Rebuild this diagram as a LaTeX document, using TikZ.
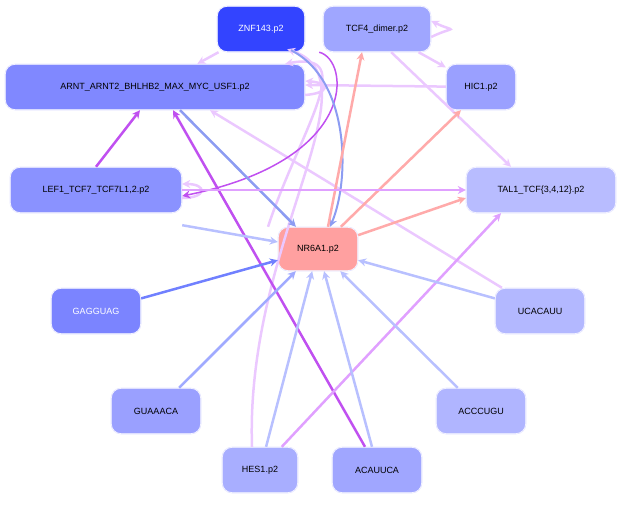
\documentclass[tikz,border=0pt]{standalone}
\usepackage{fontspec}
\setmainfont{Liberation Sans}
\usetikzlibrary{arrows.meta}

\definecolor{cLav}{HTML}{EBC8FF}
\definecolor{cPur}{HTML}{C050F0}
\definecolor{cVio}{HTML}{E0A0FF}
\definecolor{cLBlue}{HTML}{B8C0FF}
\definecolor{cBlue}{HTML}{8C9CF2}
\definecolor{cSal}{HTML}{FFAAAA}
\definecolor{cGag}{HTML}{7080FF}
\definecolor{cGua}{HTML}{A0AAFF}
\definecolor{fZnf}{HTML}{3344FF}
\definecolor{fTcf}{HTML}{9FA6FF}
\definecolor{fArnt}{HTML}{8088FF}
\definecolor{fHic}{HTML}{9AA0FF}
\definecolor{fLef}{HTML}{8A92FF}
\definecolor{fTal}{HTML}{B8BCFF}
\definecolor{fNr}{HTML}{FFA0A0}
\definecolor{fGag}{HTML}{7B84FF}
\definecolor{fUca}{HTML}{B3B8FF}
\definecolor{fAcc}{HTML}{B0B5FF}
\definecolor{fHes}{HTML}{A8AEFF}
\definecolor{fAca}{HTML}{A0A6FF}

\begin{document}
\begin{tikzpicture}[x=1pt, y=-1pt, font=\small]
	\tikzstyle{tf}=[rectangle, rounded corners=10pt, draw=white, double=blue!10, minimum height=46pt, inner sep=4pt]
	\tikzstyle{edge}=[line width=2.5pt, -{Stealth[length=8pt,width=8pt]}]
	\useasboundingbox (0,0) rectangle (621,504);
	\node[tf, fill=fZnf, text=white, minimum width=88pt] (znf) at (261,29) {ZNF143.p2};
	\node[tf, fill=fTcf, minimum width=108pt] (tcf) at (377,29) {TCF4\_dimer.p2};
	\node[tf, fill=fArnt, minimum width=300pt] (arnt) at (155,87) {ARNT\_ARNT2\_BHLHB2\_MAX\_MYC\_USF1.p2};
	\node[tf, fill=fHic, minimum width=70pt] (hic) at (481,87) {HIC1.p2};
	\node[tf, fill=fLef, minimum width=172pt] (lef) at (96,190) {LEF1\_TCF7\_TCF7L1,2.p2};
	\node[tf, fill=fTal, minimum width=150pt] (tal) at (541,190) {TAL1\_TCF\{3,4,12\}.p2};
	\node[tf, fill=fNr, minimum width=80pt, minimum height=44pt] (nr) at (318,249) {NR6A1.p2};
	\node[tf, fill=fGag, text=white, minimum width=90pt] (gag) at (96,311) {GAGGUAG};
	\node[tf, fill=fUca, minimum width=90pt] (uca) at (540,311) {UCACAUU};
	\node[tf, fill=fHic, minimum width=90pt] (gua) at (156,411) {GUAAACA};
	\node[tf, fill=fAcc, minimum width=90pt] (acc) at (481,411) {ACCCUGU};
	\node[tf, fill=fHes, minimum width=76pt] (hes) at (260,470) {HES1.p2};
	\node[tf, fill=fAca, minimum width=90pt] (aca) at (377,470) {ACAUUCA};
	% light edges
	\draw[edge, cLav] (znf) -- (arnt);
	\draw[edge, cLav] ([yshift=-8pt]tcf.east) .. controls +(25,-12) and +(25,12) .. ([yshift=8pt]tcf.east);
	\draw[edge, cLav] (tcf) -- (hic);
	\draw[edge, cLav] ([xshift=-40pt]tcf.south east) -- ([xshift=-30pt]tal.north);
	\draw[edge, cLav] (hic) -- ([yshift=2pt]arnt.east);
	\draw[edge, cLav] ([yshift=-8pt]arnt.east) .. controls +(25,-2) and +(25,2) .. ([yshift=6pt]arnt.east);
	\draw[edge, cLav] (uca) -- ([xshift=55pt]arnt.south);
	\draw[edge, cLav] ([xshift=-8pt]hes.north) .. controls (245,240) and (380,80) .. ([xshift=-18pt,yshift=3pt]znf.south east);
	\draw[edge, cLav] ([xshift=-50pt]nr.north) .. controls (300,130) and (360,50) .. ([xshift=-20pt]arnt.north east);
	\draw[edge, cLav] ([yshift=-8pt]lef.east) .. controls +(25,0) and +(25,0) .. ([yshift=6pt]lef.east);
	% strong edges
	\draw[edge, cPur, line width=1.5pt] ([xshift=14pt]znf.south east) .. controls (350,60) and (360,160) .. ([yshift=-6pt]lef.east);
	\draw[edge, cPur] (lef.north) -- ([xshift=-15pt]arnt.south);
	\draw[edge, cPur] ([xshift=-12pt]aca.north) -- ([xshift=18pt]arnt.south);
	\draw[edge, cBlue] ([xshift=25pt]arnt.south) -- ([xshift=-22pt]nr.north);
	\draw[edge, cBlue, line width=2pt] ([xshift=30pt,yshift=2pt]znf.south) .. controls (350,80) and (350,180) .. ([xshift=12pt]nr.north);
	\draw[edge, cSal] ([xshift=10pt]nr.north) -- ([xshift=-15pt]tcf.south);
	\draw[edge, cSal] (nr) -- ([xshift=-20pt]hic.south);
	\draw[edge, cSal] (nr) -- ([yshift=-8pt]tal.west);
	\draw[edge, cVio] (lef) -- (tal);
	\draw[edge, cVio] (hes) -- ([xshift=-40pt]tal.south);
	\draw[edge, cLBlue] ([yshift=-12pt]lef.south east) -- (nr);
	\draw[edge, cGag] (gag) -- (nr);
	\draw[edge, cLBlue] (uca) -- (nr);
	\draw[edge, cGua] (gua) -- (nr);
	\draw[edge, cLBlue] (hes) -- (nr);
	\draw[edge, cLBlue] ([xshift=-5pt]aca.north) -- (nr);
	\draw[edge, cLBlue] (acc) -- (nr);
\end{tikzpicture}
\end{document}
